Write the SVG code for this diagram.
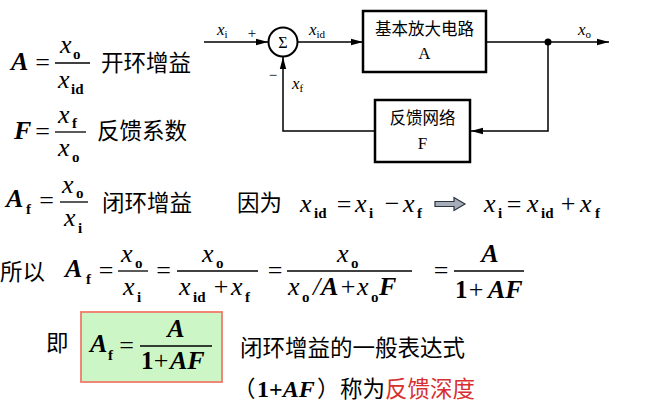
<svg xmlns="http://www.w3.org/2000/svg" width="648" height="414" viewBox="0 0 648 414">
<style>
text{font-family:"Liberation Serif","Times New Roman",serif;fill:#000}
.cn{font-family:"Noto Sans CJK SC","Noto Sans",sans-serif;font-size:22.5px}
.v{font-style:italic;font-size:26px}
.V{font-style:italic;font-weight:bold;font-size:26px}
.s{font-weight:bold;font-size:15px}
.op{font-size:26px;text-anchor:middle}
.b{font-weight:bold;font-size:25px}
.fl{stroke:#000;stroke-width:1.3;fill:none}
.dv{font-style:italic;font-size:17px}
.ds{font-size:11px}
.dcn{font-family:"Noto Sans CJK SC","Noto Sans",sans-serif;font-size:16.5px;text-anchor:middle}
.dl{font-size:17px;text-anchor:middle}
.box{fill:#fff;stroke:#000;stroke-width:2.5}
.wire{fill:none;stroke:#000;stroke-width:1.5}
.red{fill:#d83030}
</style>
<defs>
<marker id="ah" markerUnits="userSpaceOnUse" markerWidth="13" markerHeight="8" refX="12" refY="4" orient="auto">
<path d="M0,0.8 L12,4 L0,7.2 z" fill="#000"/>
</marker>
</defs>
<rect width="648" height="414" fill="#fff"/>

<!-- block diagram -->
<g id="connectors">
<path class="wire" d="M204,42 H268" marker-end="url(#ah)"/>
<path class="wire" d="M297,42 H363" marker-end="url(#ah)"/>
<path class="wire" d="M486,42 H609" marker-end="url(#ah)"/>
<path class="wire" d="M548,42 V131 H471" marker-end="url(#ah)"/>
<path class="wire" d="M375,131 H283 V57" marker-end="url(#ah)"/>
<circle cx="548" cy="42" r="3.5" fill="#000"/>
<text class="dv" x="217" y="35">x<tspan class="ds" font-style="normal" dy="3">i</tspan></text>
<text x="252" y="38" font-size="15" text-anchor="middle">+</text>
<text class="dv" x="309" y="35">x<tspan class="ds" font-style="normal" dy="3">id</tspan></text>
<text class="dv" x="578" y="35">x<tspan class="ds" font-style="normal" dy="3">o</tspan></text>
<text x="273" y="80" font-size="15" text-anchor="middle">−</text>
<text class="dv" x="292" y="89">x<tspan class="ds" font-style="normal" dy="3">f</tspan></text>
</g>
<g id="sum">
<circle cx="283" cy="42" r="14.5" fill="#fff" stroke="#000" stroke-width="2"/>
<text x="283" y="48" font-size="16" text-anchor="middle">Σ</text>
</g>
<g id="amp">
<rect class="box" x="363" y="11" width="123" height="61"/>
<text class="dcn" x="424.5" y="35">基本放大电路</text>
<text class="dl" x="424.5" y="59">A</text>
</g>
<g id="fb">
<rect class="box" x="375" y="100" width="95" height="62"/>
<text class="dcn" x="422.5" y="124">反馈网络</text>
<text class="dl" x="422.5" y="149">F</text>
</g>

<!-- eq1 -->
<g id="eq1">
<text class="V" x="11" y="70">A</text>
<text class="op" x="42.5" y="71">=</text>
<line class="fl" x1="55" y1="63" x2="90" y2="63"/>
<text class="v" x="60" y="53">x</text><text class="s" x="73" y="59">o</text>
<text class="v" x="58" y="88">x</text><text class="s" x="71" y="94">id</text>
<text class="cn" x="101" y="71">开环增益</text>
</g>
<!-- eq2 -->
<g id="eq2">
<text class="V" x="14" y="139">F</text>
<text class="op" x="42.5" y="140">=</text>
<line class="fl" x1="55" y1="132" x2="86" y2="132"/>
<text class="v" x="58" y="123">x</text><text class="s" x="72" y="128">f</text>
<text class="v" x="58" y="156">x</text><text class="s" x="72" y="162">o</text>
<text class="cn" x="97" y="139">反馈系数</text>
</g>
<!-- eq3 -->
<g id="eq3">
<text class="V" x="6" y="207">A</text><text class="s" x="26" y="214">f</text>
<text class="op" x="46.5" y="209">=</text>
<line class="fl" x1="60" y1="202" x2="88" y2="202"/>
<text class="v" x="62" y="193">x</text><text class="s" x="76" y="198">o</text>
<text class="v" x="64" y="226">x</text><text class="s" x="78" y="233">i</text>
<text class="cn" x="102" y="211">闭环增益</text>
<text class="cn" x="237" y="211">因为</text>
<text class="v" x="300" y="212">x</text><text class="s" x="314" y="218">id</text>
<text class="op" x="344" y="213">=</text>
<text class="v" x="355" y="212">x</text><text class="s" x="369" y="218">i</text>
<text class="op" x="392" y="212">−</text>
<text class="v" x="403" y="212">x</text><text class="s" x="417" y="218">f</text>
<path d="M435,201.5 H454 V197.5 L465,204 L454,210.5 V206.5 H435 z" fill="#a6adb8" stroke="#2b3340" stroke-width="1.2"/>
<text class="v" x="484" y="212">x</text><text class="s" x="498" y="218">i</text>
<text class="op" x="514" y="213">=</text>
<text class="v" x="527" y="212">x</text><text class="s" x="541" y="218">id</text>
<text class="op" x="568" y="212">+</text>
<text class="v" x="580" y="212">x</text><text class="s" x="595" y="218">f</text>
</g>
<!-- eq4 -->
<g id="eq4">
<text class="cn" x="0" y="280">所以</text>
<text class="V" x="65" y="277">A</text><text class="s" x="86" y="284">f</text>
<text class="op" x="106" y="279">=</text>
<line class="fl" x1="118" y1="271" x2="148" y2="271"/>
<text class="v" x="121" y="262">x</text><text class="s" x="135" y="268">o</text>
<text class="v" x="123" y="295">x</text><text class="s" x="137" y="302">i</text>
<text class="op" x="163.5" y="279">=</text>
<line class="fl" x1="177" y1="271" x2="258" y2="271"/>
<text class="v" x="202" y="262">x</text><text class="s" x="216" y="268">o</text>
<text class="v" x="179" y="295">x</text><text class="s" x="193" y="302">id</text>
<text class="op" x="221" y="295">+</text>
<text class="v" x="231" y="295">x</text><text class="s" x="245" y="302">f</text>
<text class="op" x="275" y="279">=</text>
<line class="fl" x1="287" y1="271" x2="412" y2="271"/>
<text class="v" x="337" y="262">x</text><text class="s" x="351" y="268">o</text>
<text class="v" x="288" y="295">x</text><text class="s" x="302" y="302">o</text>
<text class="v" x="313" y="295">/</text>
<text class="V" x="321" y="295">A</text>
<text class="op" x="348" y="295">+</text>
<text class="v" x="357" y="295">x</text><text class="s" x="371" y="302">o</text>
<text class="V" x="379" y="295">F</text>
<text class="op" x="441" y="279">=</text>
<line class="fl" x1="454" y1="271" x2="524" y2="271"/>
<text class="V" x="490" y="262" text-anchor="middle">A</text>
<text class="b" x="455" y="298">1</text>
<text class="op" x="476" y="298">+</text>
<text class="V" x="488" y="298">AF</text>
</g>
<!-- eq5 -->
<g id="eq5">
<text class="cn" x="46" y="351">即</text>
<rect x="81" y="312" width="141" height="70" fill="#ccf6c6" stroke="#f07a6c" stroke-width="1.8"/>
<text class="V" x="90" y="352">A</text><text class="s" x="108" y="360">f</text>
<text class="op" x="126.5" y="354">=</text>
<line class="fl" x1="140" y1="346" x2="212" y2="346"/>
<text class="V" x="176" y="337" text-anchor="middle">A</text>
<text class="b" x="141" y="369">1</text>
<text class="op" x="161" y="369">+</text>
<text class="V" x="170" y="369">AF</text>
<text class="cn" x="240" y="356" font-size="23">闭环增益的一般表达式</text>
<text class="cn" x="233" y="397">（</text>
<text x="257" y="397" font-size="24" font-weight="bold">1+<tspan font-style="italic">AF</tspan></text>
<text class="cn" x="317" y="397">）</text>
<text class="cn" x="340" y="397">称为</text>
<text class="cn red" x="385" y="397">反馈深度</text>
</g>
</svg>
